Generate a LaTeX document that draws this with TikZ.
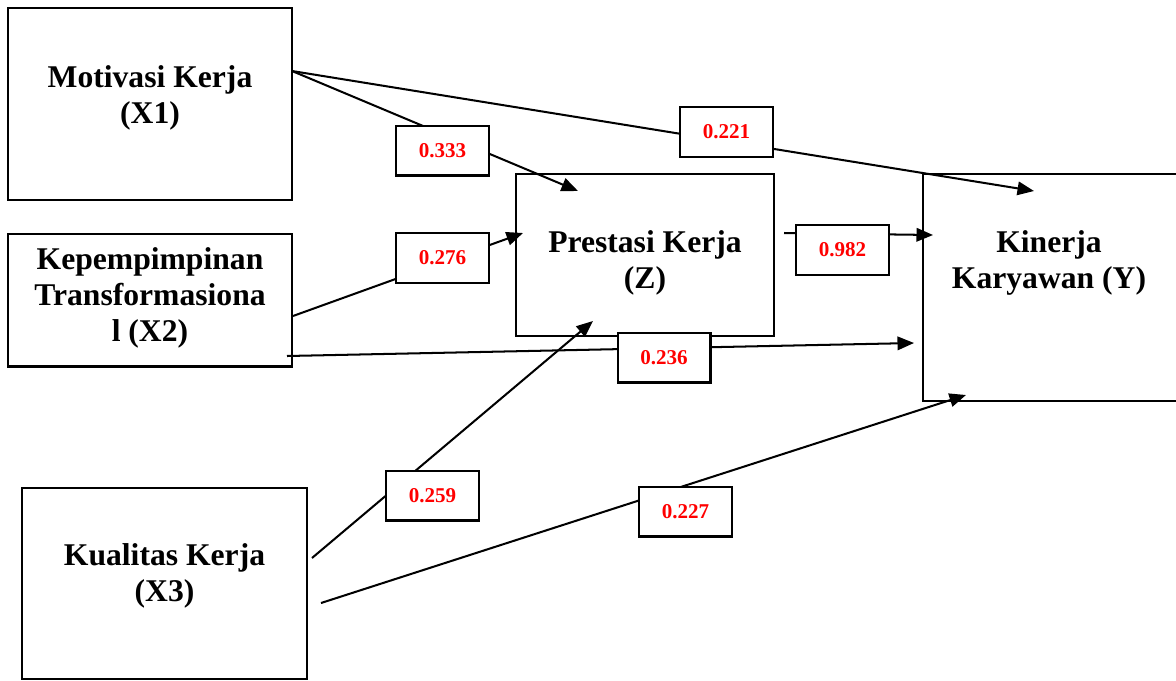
\documentclass[tikz,border=0pt]{standalone}
\usepackage{fontspec}
\setmainfont{Liberation Serif}
\usetikzlibrary{arrows.meta}

\begin{document}
\begin{tikzpicture}[
    x=0.02cm, y=-0.02cm,
    box/.style={rectangle, draw=black, line width=1.15pt, minimum width=5.7cm, minimum height=3.84cm},
    title/.style={align=center, font=\fontsize{18}{20.4}\selectfont\bfseries},
    coef/.style={rectangle, draw=black, line width=1.15pt, fill=white, minimum width=1.86cm, minimum height=1cm, text=red, font=\fontsize{12}{14}\selectfont\bfseries},
    arrow/.style={-{Triangle[length=0.33cm, width=0.27cm]}, line width=1.15pt}
]
\useasboundingbox (0,0) rectangle (1176,680);

% Variables
\node[box] (x1) at (150,104) {};
\node[title] (x1t) at (150,98) {Motivasi Kerja\\(X1)};

\node[box, minimum height=2.66cm] (x2) at (150,300) {};
\node[title] (x2t) at (150,298) {Kepempimpinan\\Transformasiona\\l (X2)};

\node[box, minimum height=3.82cm] (x3) at (164.5,583.5) {};
\node[title] (x3t) at (164.5,576) {Kualitas Kerja\\(X3)};

\node[box, minimum width=5.16cm, minimum height=3.24cm] (z) at (645,255) {};
\node[title] (zt) at (645,263) {Prestasi Kerja\\(Z)};

\node[box, minimum width=5.34cm, minimum height=4.54cm] (y) at (1056.5,287.5) {};
\node[title] (yt) at (1049,263) {Kinerja\\Karyawan (Y)};

% Path ends
\coordinate (x1a) at (292,71);
\coordinate (x2a) at (293,316);
\coordinate (x2b) at (287,356);
\coordinate (x3a) at (312,558);
\coordinate (x3b) at (321,603);
\coordinate (za) at (784,233);
\coordinate (zin1) at (578,191);
\coordinate (zin2) at (523,233);
\coordinate (zin3) at (593,321);
\coordinate (yin1) at (1034,191);
\coordinate (yin2) at (933,235);
\coordinate (yin3) at (914,343);
\coordinate (yin4) at (966,395);

% Arrows
\draw[arrow] (x1a) -- (zin1);
\draw[arrow] (x1a) -- (yin1);
\draw[arrow] (x2a) -- (zin2);
\draw[arrow] (x2b) -- (yin3);
\draw[arrow] (x3a) -- (zin3);
\draw[arrow] (x3b) -- (yin4);
\draw[arrow] (za) -- (yin2);

% Path coefficients
\node[coef] (c1) at (442.5,150.5) {0.333};
\node[coef] (c2) at (726.5,132) {0.221};
\node[coef] (c3) at (442.5,258) {0.276};
\node[coef] (c4) at (842.5,250) {0.982};
\node[coef] (c5) at (664,357.5) {0.236};
\node[coef] (c6) at (432.5,495.5) {0.259};
\node[coef] (c7) at (685.5,511.5) {0.227};

\end{tikzpicture}
\end{document}
